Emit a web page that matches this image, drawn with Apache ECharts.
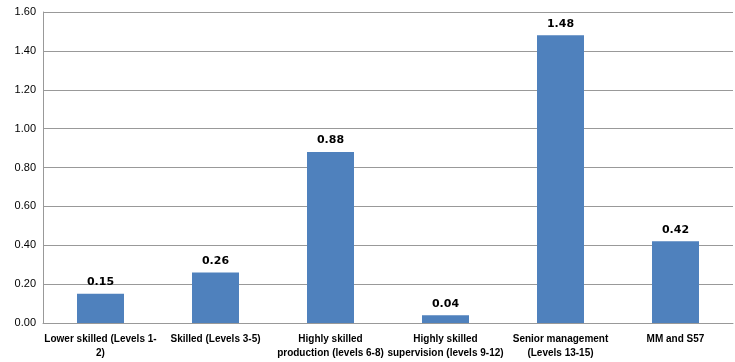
<!DOCTYPE html>
<html><head><meta charset="utf-8">
<script src="https://cdn.jsdelivr.net/npm/echarts@6/dist/echarts.min.js"></script>
<style>html,body{margin:0;padding:0;background:#fff}#c{width:735px;height:362px}</style>
</head><body><div id="c"></div>
<script>
var categories = ["Lower skilled (Levels 1-\n2)", "Skilled (Levels 3-5)", "Highly skilled\nproduction (levels 6-8)", "Highly skilled\nsupervision (levels 9-12)", "Senior management\n(Levels 13-15)", "MM and S57"];
var values = [0.15, 0.26, 0.88, 0.04, 1.48, 0.42];
var chart = echarts.init(document.getElementById('c'));
chart.setOption({
  animation: false,
  grid: {left: 43, right: 2, top: 12, bottom: 39},
  xAxis: {
    type: 'category', data: categories,
    axisLine: {lineStyle: {color: '#999'}},
    axisTick: {show: false},
    axisLabel: {interval: 0, color: '#000', fontFamily: '"Liberation Sans", Arial', fontWeight: 'bold', fontSize: 10, lineHeight: 14, margin: 9}
  },
  yAxis: {
    type: 'value', min: 0, max: 1.6, interval: 0.2,
    axisLine: {show: true, lineStyle: {color: '#999'}},
    axisTick: {show: false},
    splitLine: {lineStyle: {color: '#999'}},
    axisLabel: {color: '#000', fontFamily: '"Liberation Sans", Arial', fontSize: 11, margin: 7, formatter: function(v){return v.toFixed(2);}}
  },
  series: [{
    type: 'bar', data: values, barWidth: 47,
    itemStyle: {color: '#4F81BD'},
    label: {show: true, position: 'top', color: '#000', fontWeight: 'bold', fontSize: 11, fontFamily: '"DejaVu Sans", Verdana', distance: 6, formatter: function(p){return p.value.toFixed(2);}}
  }]
});
</script></body></html>
